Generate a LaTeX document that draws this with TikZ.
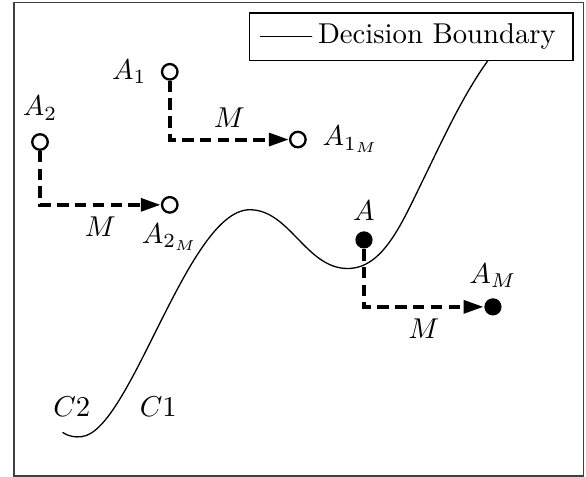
\documentclass[tikz,border=0pt]{standalone}
\usepackage{tikz}
\usetikzlibrary{arrows.meta,positioning}
\tikzset{
  frameln/.style={line width=0.6pt, black!75},
  boundln/.style={line width=0.45pt, line cap=round, line join=round},
  moveln/.style={-{Triangle[length=7pt,width=4.4pt]}, line width=1.4pt,
    dash pattern=on 4pt off 2.2pt},
  openpt/.style={circle, draw, line width=0.8pt, fill=white, inner sep=0pt,
    minimum size=5.4pt},
  fullpt/.style={circle, fill, inner sep=0pt, minimum size=6pt},
}

\begin{document}
\begin{tikzpicture}
    \useasboundingbox (0,0) rectangle (7.18,5.84);
    % axis frame
    \draw[frameln] (0.17,0.01) rectangle (7.15,5.81);
    % decision boundary
    \draw[boundln] (0.77,0.54) .. controls (0.85,0.49) and (0.92,0.48) .. (1.00,0.49)
      .. controls (1.60,0.55) and (2.30,3.27) .. (3.06,3.27)
      .. controls (3.55,3.27) and (3.75,2.55) .. (4.26,2.55)
      .. controls (4.70,2.55) and (4.93,3.12) .. (5.20,3.67)
      .. controls (5.45,4.18) and (5.75,4.85) .. (6.13,5.29);
    \node (c2) at (0.88,0.86) {$C2$};
    \node (c1) at (1.94,0.86) {$C1$};
    % legend
    \draw[fill=white, line width=0.45pt] (3.06,5.10) rectangle (7.02,5.68);
    \draw[boundln] (3.19,5.39) -- (3.82,5.39);
    \node[right, inner sep=2pt] (legtxt) at (3.82,5.39) {Decision Boundary};
    % points and their moves
    \node[openpt] (a1) at (2.08,4.96) {};
    \node[openpt] (a1m) at (3.65,4.13) {};
    \node[openpt] (a2) at (0.49,4.10) {};
    \node[openpt] (a2m) at (2.08,3.33) {};
    \node[fullpt] (a) at (4.46,2.90) {};
    \node[fullpt] (am) at (6.04,2.08) {};
    \node[left=1.5pt of a1] (a1lab) {$A_1$};
    \node[right=2pt of a1m] (a1mlab) {$A_{1_M}$};
    \node[above=1pt of a2] (a2lab) {$A_2$};
    \node[below=0pt of a2m] (a2mlab) {$A_{2_M}$};
    \node[above=0pt of a] (alab) {$A$};
    \node[above=0pt of am] (amlab) {$A_M$};
    \foreach \p/\q/\s in {a1/a1m/above, a2/a2m/below, a/am/below} {
      \draw[moveln] (\p) |- node[pos=0.75, \s=0pt] (m\p) {$M$} (\q);
    }
\end{tikzpicture}
\end{document}
